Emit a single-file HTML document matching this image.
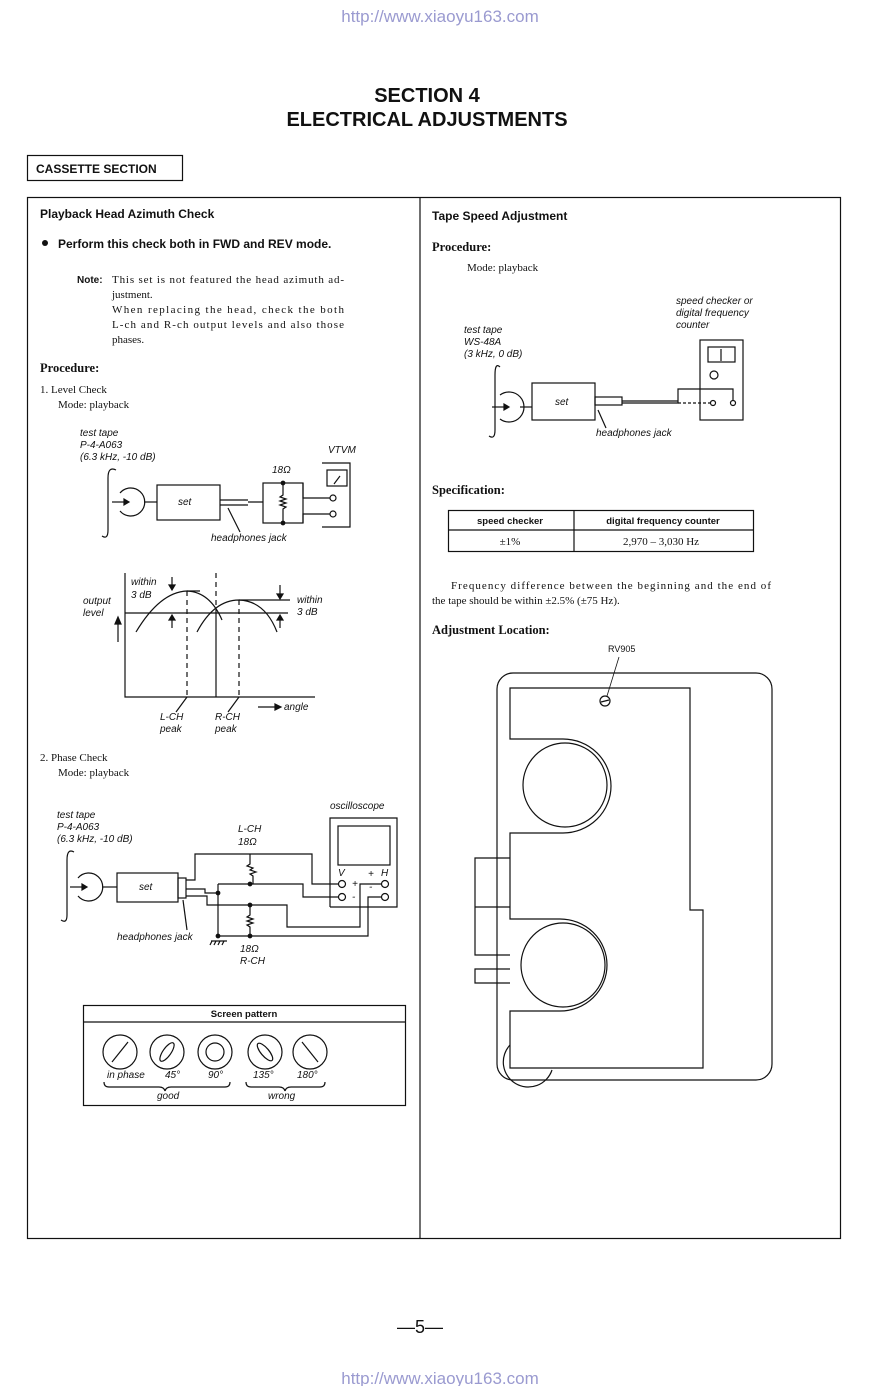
<!DOCTYPE html>
<html><head><meta charset="utf-8"><style>
html,body{margin:0;padding:0;background:#fff}
svg{display:block}
.s{font-family:"Liberation Sans",sans-serif}
.r{font-family:"Liberation Serif",serif}
.i{font-family:"Liberation Sans",sans-serif;font-style:italic;font-size:10px}
</style></head><body>
<svg width="880" height="1386" viewBox="0 0 880 1386" xmlns="http://www.w3.org/2000/svg" fill="none" stroke="#111" stroke-width="1.2">
<g stroke="none" fill="#111">
<text x="440" y="22" class="s" font-size="17" fill="#9a9ad0" text-anchor="middle">http://www.xiaoyu163.com</text>
<text x="427" y="102" class="s" font-size="20" font-weight="bold" text-anchor="middle">SECTION 4</text>
<text x="427" y="126" class="s" font-size="20" font-weight="bold" text-anchor="middle">ELECTRICAL ADJUSTMENTS</text>
<text x="36" y="173" class="s" font-size="12" font-weight="bold">CASSETTE SECTION</text>
<text x="40" y="218" class="s" font-size="12" font-weight="bold">Playback Head Azimuth Check</text>
<circle cx="45" cy="243" r="3"/>
<text x="58" y="248" class="s" font-size="12" font-weight="bold">Perform this check both in FWD and REV mode.</text>
<text x="77" y="283" class="s" font-size="10" font-weight="bold">Note:</text>
<g class="r" font-size="11">
<text x="112" y="283" textLength="232">This set is not featured the head azimuth ad-</text>
<text x="112" y="298">justment.</text>
<text x="112" y="313" textLength="232">When replacing the head, check the both</text>
<text x="112" y="328" textLength="232">L-ch and R-ch output levels and also those</text>
<text x="112" y="343">phases.</text>
<text x="40" y="393">1.  Level Check</text>
<text x="58" y="408">Mode:  playback</text>
<text x="40" y="761">2.  Phase Check</text>
<text x="58" y="776">Mode:  playback</text>
<text x="467" y="271">Mode:  playback</text>
<text x="451" y="589" textLength="320">Frequency difference between the beginning and the end of</text>
<text x="432" y="604">the tape should be within ±2.5% (±75 Hz).</text>
<text x="510" y="545" text-anchor="middle">±1%</text>
<text x="661" y="545" text-anchor="middle">2,970 – 3,030 Hz</text>
</g>
<text x="40" y="372" class="r" font-size="12.5" font-weight="bold">Procedure:</text>
<text x="432" y="220" class="s" font-size="12" font-weight="bold">Tape Speed Adjustment</text>
<text x="432" y="251" class="r" font-size="12.5" font-weight="bold">Procedure:</text>
<text x="432" y="494" class="r" font-size="12.5" font-weight="bold">Specification:</text>
<text x="432" y="634" class="r" font-size="12.5" font-weight="bold">Adjustment Location:</text>
<text x="510" y="524" class="s" font-size="9.5" font-weight="bold" text-anchor="middle">speed checker</text>
<text x="663" y="524" class="s" font-size="9.5" font-weight="bold" text-anchor="middle">digital frequency counter</text>
<text x="608" y="652" class="s" font-size="9">RV905</text>
<text x="420" y="1333" class="s" font-size="18" text-anchor="middle">—5—</text>
<text x="440" y="1384" class="s" font-size="17" fill="#9a9ad0" text-anchor="middle">http://www.xiaoyu163.com</text>
<g class="i">
<text x="80" y="436">test tape</text><text x="80" y="448">P-4-A063</text><text x="80" y="460">(6.3 kHz, -10 dB)</text>
<text x="328" y="453">VTVM</text><text x="272" y="473">18Ω</text>
<text x="211" y="541">headphones jack</text>
<text x="131" y="585">within</text><text x="131" y="598">3 dB</text>
<text x="83" y="604">output</text><text x="83" y="616">level</text>
<text x="297" y="603">within</text><text x="297" y="615">3 dB</text>
<text x="284" y="710">angle</text>
<text x="160" y="720">L-CH</text><text x="160" y="732">peak</text>
<text x="215" y="720">R-CH</text><text x="215" y="732">peak</text>
<text x="57" y="818">test tape</text><text x="57" y="830">P-4-A063</text><text x="57" y="842">(6.3 kHz, -10 dB)</text>
<text x="330" y="809">oscilloscope</text>
<text x="238" y="832">L-CH</text><text x="238" y="845">18Ω</text>
<text x="240" y="952">18Ω</text><text x="240" y="964">R-CH</text>
<text x="117" y="940">headphones jack</text>
<text x="139" y="890">set</text><text x="178" y="505">set</text><text x="555" y="405">set</text>
<text x="338" y="876">V</text><text x="381" y="876">H</text>
<text x="352" y="887">+</text><text x="352" y="900">-</text><text x="368" y="877">+</text><text x="369" y="890">-</text>
<text x="676" y="304">speed checker or</text><text x="676" y="316">digital frequency</text><text x="676" y="328">counter</text>
<text x="464" y="333">test tape</text><text x="464" y="345">WS-48A</text><text x="464" y="357">(3 kHz, 0 dB)</text>
<text x="596" y="436">headphones jack</text>
<text x="107" y="1078">in phase</text><text x="165" y="1078">45°</text><text x="208" y="1078">90°</text><text x="253" y="1078">135°</text><text x="297" y="1078">180°</text>
<text x="157" y="1099">good</text><text x="268" y="1099">wrong</text>
</g>
<text x="244" y="1017" class="s" font-size="9.5" font-weight="bold" text-anchor="middle">Screen pattern</text>
</g>
<rect x="27.5" y="155.5" width="155" height="25"/>
<rect x="27.5" y="197.5" width="813" height="1041"/>
<line x1="420" y1="197" x2="420" y2="1238"/>
<!-- Level check circuit -->
<path d="M116 470 Q108 466 108 478 L108 530 Q108 540 102 536"/>
<path d="M120 493 A14 14 0 1 1 120 511"/>
<path d="M112 502 H128" /><path d="M124 499 L129 502 L124 505Z" fill="#111"/>
<line x1="144" y1="502" x2="157" y2="502"/>
<rect x="157" y="485" width="63" height="35"/>
<path d="M220 500 H248 M220 505 H248 M248 502 H263"/>
<rect x="263" y="483" width="40" height="40"/>
<path d="M283 483 V495 l-3 2 l6 2 l-6 2 l6 2 l-6 2 l6 2 l-3 2 V523"/>
<circle cx="283" cy="483" r="1.8" fill="#111"/><circle cx="283" cy="523" r="1.8" fill="#111"/>
<path d="M303 483 H303 V498 H330 M303 523 V514 H330"/>
<circle cx="333" cy="498" r="3"/><circle cx="333" cy="514" r="3"/>
<path d="M322 463 H350 V527 H322"/>
<rect x="327" y="470" width="20" height="16"/><line x1="334" y1="484" x2="340" y2="476"/>
<line x1="228" y1="508" x2="240" y2="532"/>
<!-- graph -->
<path d="M125 573 V697 H315"/>
<line x1="125" y1="613" x2="288" y2="613"/>
<path d="M136 632 Q160 592 187 591 Q210 592 222 620"/>
<path d="M197 632 Q214 600 239 600 Q265 601 277 632"/>
<path d="M187 591 V697 M239 600 V697 M216 573 V613" stroke-dasharray="5 4"/>
<line x1="216" y1="613" x2="216" y2="697"/>
<path d="M187 591 H200 M239 600 H290"/>
<path d="M172 577 V589 M172 628 V616 M280 585 V598 M280 628 V616 M118 642 V620"/>
<path d="M169 585 L172 590 L175 585Z M169 620 L172 615 L175 620Z M277 594 L280 599 L283 594Z M277 620 L280 615 L283 620Z M115 624 L118 617 L121 624Z" fill="#111"/>
<path d="M258 707 H278"/><path d="M275 704 L281 707 L275 710Z" fill="#111"/>
<path d="M187 697 L176 712 M239 697 L228 712"/>
<!-- phase circuit -->
<path d="M74 852 Q67 848 67 860 L67 915 Q67 924 61 920"/>
<path d="M78 878 A14 14 0 1 1 78 896"/>
<path d="M70 887 H86"/><path d="M82 884 L87 887 L82 890Z" fill="#111"/>
<line x1="102" y1="887" x2="117" y2="887"/>
<rect x="117" y="873" width="61" height="29"/>
<rect x="178" y="878" width="8" height="20"/>
<path d="M186 880 H195 V854 H312 V884 H339"/>
<path d="M250 854 V864 l-3 2 l6 2 l-3 2 l6 2 l-6 2 l3 2 V884"/>
<path d="M218 884 H303 V897 H339"/>
<path d="M186 889 H205 V893 H218"/>
<path d="M218 884 V936 H250 H368 V897 H382"/>
<path d="M186 896 H207 V905 H287 V927 H360 V884 H382"/>
<path d="M250 905 V915 l-3 2 l6 2 l-6 2 l6 2 l-6 2 l3 2 V936"/>
<circle cx="250" cy="884" r="1.8" fill="#111"/><circle cx="218" cy="893" r="1.8" fill="#111"/>
<circle cx="250" cy="905" r="1.8" fill="#111"/><circle cx="250" cy="936" r="1.8" fill="#111"/><circle cx="218" cy="936" r="1.8" fill="#111"/>
<path d="M211 941 H227 M212 941 l-2 4 M216 941 l-2 4 M220 941 l-2 4 M224 941 l-2 4"/>
<path d="M330 907 V818 H397 V907 H330"/>
<rect x="338" y="826" width="52" height="39"/>
<circle cx="342" cy="884" r="3.5" fill="#fff"/><circle cx="342" cy="897" r="3.5" fill="#fff"/>
<circle cx="385" cy="884" r="3.5" fill="#fff"/><circle cx="385" cy="897" r="3.5" fill="#fff"/>
<line x1="183" y1="900" x2="187" y2="930"/>
<!-- screen pattern -->
<rect x="83.5" y="1005.5" width="322" height="100"/>
<line x1="83" y1="1022" x2="405" y2="1022"/>
<circle cx="120" cy="1052" r="17"/><line x1="112" y1="1062" x2="128" y2="1042"/>
<circle cx="167" cy="1052" r="17"/><ellipse cx="167" cy="1052" rx="4" ry="11" transform="rotate(35 167 1052)"/>
<circle cx="215" cy="1052" r="17"/><circle cx="215" cy="1052" r="9"/>
<circle cx="265" cy="1052" r="17"/><ellipse cx="265" cy="1052" rx="4" ry="11" transform="rotate(-40 265 1052)"/>
<circle cx="310" cy="1052" r="17"/><line x1="302" y1="1042" x2="318" y2="1062"/>
<path d="M104 1082 q0 5 5 5 H159 q5 0 6 4 q1 -4 6 -4 H225 q5 0 5 -5"/>
<path d="M246 1082 q0 5 5 5 H279 q5 0 6 4 q1 -4 6 -4 H320 q5 0 5 -5"/>
<!-- tape speed circuit -->
<path d="M500 367 Q495 362 495 375 L495 430 Q495 440 489 436"/>
<path d="M500 395 A15 15 0 1 1 500 419"/>
<path d="M492 407 H508"/><path d="M504 404 L509 407 L504 410Z" fill="#111"/>
<line x1="520" y1="407" x2="532" y2="407"/>
<rect x="532" y="383" width="63" height="37"/>
<rect x="595" y="397" width="27" height="8"/>
<path d="M622 401 H678 M622 403 H678 V389 H733 V400"/>
<path d="M678 403 H710" stroke-dasharray="3 2"/>
<circle cx="713" cy="403" r="2.5"/><circle cx="733" cy="403" r="2.5"/>
<rect x="700" y="340" width="43" height="80"/>
<rect x="708" y="347" width="27" height="15"/><line x1="721" y1="349" x2="721" y2="361"/>
<circle cx="714" cy="375" r="4"/>
<line x1="598" y1="410" x2="606" y2="428"/>
<!-- spec table -->
<rect x="448.5" y="510.5" width="305" height="41"/>
<line x1="448" y1="530" x2="753" y2="530"/><line x1="574" y1="510" x2="574" y2="551"/>
<!-- device -->
<rect x="497" y="673" width="275" height="407" rx="16"/>
<path d="M510 688 H690 V910 H703 V1068 H510 V1011 H560 A47 46 0 0 0 560 919 H510 V833 H563 A48 47 0 0 0 563 739 H510 Z"/>
<circle cx="565" cy="785" r="42"/><circle cx="563" cy="965" r="42"/>
<path d="M510 858 H475 V955 H510 M475 907 H510 M510 969 H475 V983 H510"/>
<path d="M510 1045 A25 25 0 1 0 552 1070"/>
<circle cx="605" cy="701" r="5"/><line x1="601" y1="702" x2="609" y2="700"/>
<line x1="619" y1="657" x2="607" y2="696" stroke-width="0.8"/>
</svg>
</body></html>
